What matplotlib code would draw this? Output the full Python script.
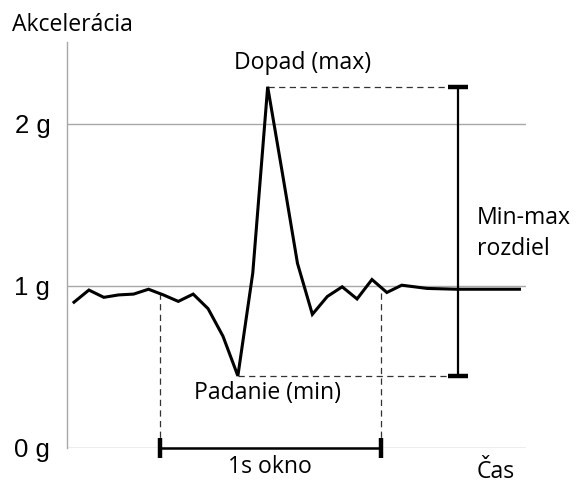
import matplotlib
matplotlib.use("Agg")
import matplotlib.pyplot as plt

plt.rcParams['font.family'] = ['Open Sans', 'DejaVu Sans']

# ---- data ----
sample_idx = [0, 1, 2, 3, 4, 5, 6, 7, 8, 9, 10, 11, 12, 13, 14, 15, 16, 17,
              18, 19, 20, 21, 22, 23.7, 25.7, 29.9]
accel_g = [0.90, 0.975, 0.93, 0.945, 0.95, 0.98, 0.945, 0.905, 0.95, 0.86,
           0.69, 0.445, 1.08, 2.23, 1.69, 1.14, 0.825, 0.935, 0.995, 0.92,
           1.04, 0.96, 1.005, 0.985, 0.98, 0.98]
yticks = [0, 1, 2]
ytick_labels = ["0 g", "1 g", "2 g"]
window_start, window_end = 5.8, 20.6
range_x = 25.8
peak_i = 13
min_i = 11

fig = plt.figure(figsize=(5.76, 4.84), dpi=100)
ax = fig.add_axes([67/576, 36/484, (526-67)/576, (448-42)/484])
ax.set_xlim(-0.47, 30.34)
ax.set_ylim(0, (448-42)/162)

for s in ['top', 'right', 'bottom']:
    ax.spines[s].set_visible(False)
ax.spines['left'].set_color('#a8a8a8')
ax.spines['left'].set_linewidth(1.0)
ax.set_xticks([])
ax.set_yticks(yticks, labels=ytick_labels, fontsize=18.5,
              family=['Liberation Sans', 'DejaVu Sans'])
ax.tick_params(axis='y', length=0, pad=12)

for yv in yticks:
    ax.axhline(yv, color='#a8a8a8', lw=1.0, zorder=1)

gmax = max(accel_g)
gmin = min(accel_g)

# signal
ax.plot(sample_idx, accel_g, color='black', lw=2.2, zorder=4,
        solid_joinstyle='miter')

# dashed references
dash = dict(color='#333333', lw=0.9, ls=(0, (5, 3.5)), zorder=3)
cap_half = 0.67
ax.plot([sample_idx[peak_i], range_x - cap_half], [gmax, gmax], **dash)
ax.plot([sample_idx[min_i], range_x - cap_half], [gmin, gmin], **dash)

def interp(x):
    for i in range(len(sample_idx) - 1):
        if sample_idx[i] <= x <= sample_idx[i+1]:
            f = (x - sample_idx[i]) / (sample_idx[i+1] - sample_idx[i])
            return accel_g[i] + f * (accel_g[i+1] - accel_g[i])
    return accel_g[-1]

for wx in (window_start, window_end):
    ax.plot([wx, wx], [0, interp(wx)], **dash)

# window bar
ax.plot([window_start, window_end], [0, 0], color='black', lw=1.8, zorder=5,
        clip_on=False)
for wx in (window_start, window_end):
    ax.plot([wx, wx], [-0.06, 0.06], color='black', lw=3.2, zorder=5,
            clip_on=False, solid_capstyle='butt')

# min-max bar
ax.plot([range_x, range_x], [gmin, gmax], color='black', lw=1.6, zorder=5)
for yv in (gmin, gmax):
    ax.plot([range_x - cap_half, range_x + cap_half], [yv, yv], color='black',
            lw=3.2, zorder=5, solid_capstyle='butt')

# texts
fs = 16.6
ax.text(15.37, 2.377, "Dopad (max)", ha='center', va='center', fontsize=fs)
ax.text(13.0, 0.34, "Padanie (min)", ha='center', va='center', fontsize=fs)
ax.text(27.05, 1.324, "Min-max\nrozdiel", ha='left', va='center', fontsize=fs,
        linespacing=1.35)
ax.text(13.15, -0.117, "1s okno", ha='center', va='center', fontsize=fs,
        clip_on=False)
ax.text(27.05, -0.183, "Čas", ha='left', va='baseline', fontsize=fs,
        clip_on=False)
fig.text(12/576, 1 - 25/484, "Akcelerácia", ha='left', va='center', fontsize=fs)

fig.savefig("out.png", dpi=100)
